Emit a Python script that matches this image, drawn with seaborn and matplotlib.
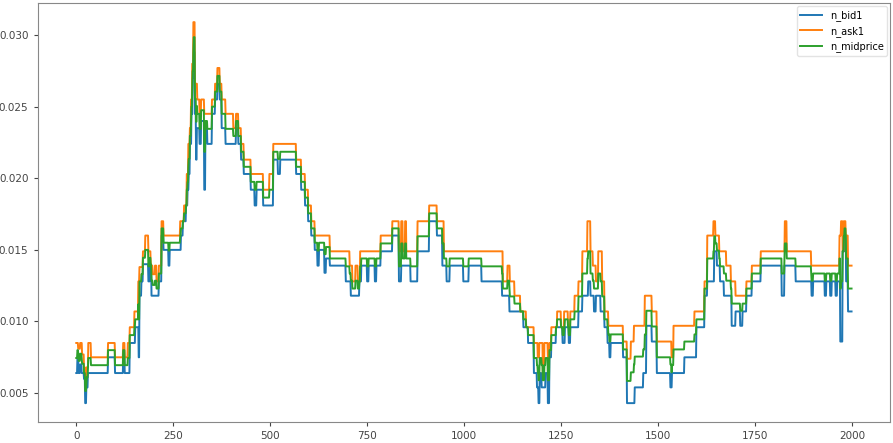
import numpy as np
import pandas as pd
import matplotlib
matplotlib.use("Agg")
import matplotlib.pyplot as plt
import seaborn as sns

N_TICKS = 2000

# Best ask: index where each price level starts, and the level
ask_start = [0, 5, 10, 15, 20, 23, 27, 31, 38, 82, 100, 121, 125, 133, 138, 150,
             160, 163, 172, 178, 186, 192, 197, 203, 207, 213, 220, 225, 268, 278,
             285, 289, 293, 296, 299, 302, 306, 312, 318, 322, 330, 350, 358, 364,
             370, 375, 385, 405, 412, 418, 425, 432, 450, 482, 498, 508, 567, 580,
             590, 598, 606, 615, 654, 705, 712, 720, 726, 732, 785, 815, 832, 838,
             842, 848, 851, 880, 910, 930, 948, 1100, 1112, 1118, 1130, 1145, 1160,
             1180, 1190, 1194, 1203, 1207, 1216, 1220, 1225, 1240, 1250, 1258, 1268,
             1274, 1285, 1295, 1305, 1318, 1326, 1332, 1340, 1346, 1356, 1362, 1372,
             1410, 1420, 1430, 1438, 1466, 1484, 1497, 1535, 1540, 1594, 1620, 1627,
             1643, 1648, 1658, 1676, 1688, 1700, 1728, 1742, 1765, 1827, 1832, 1895,
             1968, 1972, 1976, 1979, 1984, 1990]
ask_level = [0.0085, 0.0081, 0.0085, 0.0077, 0.0068, 0.0060, 0.0068, 0.0085, 0.0075,
             0.0085, 0.0075, 0.0085, 0.0075, 0.0085, 0.0096, 0.0107, 0.0128, 0.0138,
             0.0149, 0.0160, 0.0149, 0.0139, 0.0133, 0.0139, 0.0128, 0.0139, 0.0170,
             0.0160, 0.0170, 0.0181, 0.0203, 0.0224, 0.0235, 0.0255, 0.0280, 0.0309,
             0.0266, 0.0255, 0.0245, 0.0255, 0.0245, 0.0255, 0.0266, 0.0277, 0.0266,
             0.0255, 0.0245, 0.0235, 0.0245, 0.0235, 0.0224, 0.0213, 0.0203, 0.0192,
             0.0203, 0.0224, 0.0213, 0.0203, 0.0192, 0.0181, 0.0170, 0.0160, 0.0149,
             0.0139, 0.0128, 0.0139, 0.0128, 0.0149, 0.0160, 0.0170, 0.0149, 0.0170,
             0.0149, 0.0170, 0.0149, 0.0170, 0.0181, 0.0170, 0.0149, 0.0128, 0.0139,
             0.0128, 0.0118, 0.0107, 0.0096, 0.0085, 0.0075, 0.0085, 0.0064, 0.0085,
             0.0075, 0.0085, 0.0096, 0.0107, 0.0096, 0.0107, 0.0096, 0.0107, 0.0118,
             0.0128, 0.0149, 0.0170, 0.0149, 0.0139, 0.0128, 0.0149, 0.0128, 0.0107,
             0.0097, 0.0086, 0.0074, 0.0086, 0.0097, 0.0118, 0.0107, 0.0086, 0.0075,
             0.0097, 0.0107, 0.0128, 0.0160, 0.0170, 0.0160, 0.0149, 0.0139, 0.0128,
             0.0118, 0.0128, 0.0139, 0.0149, 0.0170, 0.0149, 0.0139, 0.0160, 0.0170,
             0.0149, 0.0170, 0.0160, 0.0139]

# Best bid: index where each price level starts, and the level
bid_start = [0, 3, 6, 10, 14, 20, 23, 26, 30, 82, 100, 121, 125, 138, 152, 161, 163,
             168, 172, 186, 190, 194, 213, 220, 225, 238, 241, 270, 275, 283, 287,
             290, 293, 297, 300, 303, 306, 309, 311, 318, 322, 330, 333, 338, 350,
             358, 364, 370, 375, 385, 412, 418, 425, 432, 450, 460, 465, 482, 508,
             520, 526, 567, 580, 590, 598, 606, 615, 622, 626, 640, 644, 654, 695,
             708, 730, 735, 750, 754, 770, 774, 785, 815, 832, 838, 862, 880, 910,
             930, 944, 955, 963, 998, 1012, 1045, 1098, 1117, 1153, 1165, 1180, 1188,
             1192, 1195, 1200, 1210, 1216, 1220, 1225, 1237, 1254, 1260, 1270, 1274,
             1295, 1305, 1320, 1326, 1335, 1340, 1352, 1362, 1370, 1375, 1378, 1410,
             1420, 1440, 1462, 1470, 1484, 1497, 1532, 1536, 1568, 1599, 1620, 1627,
             1645, 1652, 1660, 1670, 1690, 1700, 1712, 1718, 1728, 1742, 1765, 1819,
             1826, 1855, 1896, 1900, 1930, 1934, 1944, 1948, 1958, 1962, 1970, 1976,
             1981, 1985, 1990]
bid_level = [0.0064, 0.0075, 0.0064, 0.0070, 0.0064, 0.0060, 0.0043, 0.0054, 0.0064,
             0.0075, 0.0064, 0.0075, 0.0064, 0.0085, 0.0096, 0.0075, 0.0118, 0.0128,
             0.0140, 0.0128, 0.0140, 0.0118, 0.0128, 0.0160, 0.0150, 0.0139, 0.0150,
             0.0160, 0.0170, 0.0181, 0.0192, 0.0203, 0.0224, 0.0245, 0.0270, 0.0288,
             0.0245, 0.0213, 0.0235, 0.0224, 0.0240, 0.0192, 0.0235, 0.0224, 0.0245,
             0.0255, 0.0266, 0.0255, 0.0235, 0.0224, 0.0235, 0.0224, 0.0213, 0.0203,
             0.0192, 0.0181, 0.0192, 0.0181, 0.0213, 0.0203, 0.0213, 0.0203, 0.0192,
             0.0181, 0.0170, 0.0160, 0.0150, 0.0139, 0.0150, 0.0134, 0.0144, 0.0139,
             0.0128, 0.0118, 0.0128, 0.0139, 0.0128, 0.0139, 0.0128, 0.0139, 0.0149,
             0.0160, 0.0128, 0.0139, 0.0128, 0.0149, 0.0170, 0.0160, 0.0139, 0.0128,
             0.0139, 0.0128, 0.0139, 0.0128, 0.0118, 0.0107, 0.0096, 0.0085, 0.0064,
             0.0054, 0.0043, 0.0064, 0.0054, 0.0064, 0.0043, 0.0075, 0.0085, 0.0096,
             0.0085, 0.0096, 0.0085, 0.0096, 0.0107, 0.0118, 0.0128, 0.0118, 0.0107,
             0.0118, 0.0107, 0.0096, 0.0085, 0.0075, 0.0085, 0.0075, 0.0043, 0.0054,
             0.0064, 0.0097, 0.0086, 0.0064, 0.0054, 0.0064, 0.0075, 0.0096, 0.0118,
             0.0128, 0.0149, 0.0139, 0.0128, 0.0118, 0.0097, 0.0107, 0.0097, 0.0107,
             0.0118, 0.0128, 0.0139, 0.0118, 0.0139, 0.0128, 0.0118, 0.0128, 0.0118,
             0.0128, 0.0118, 0.0128, 0.0118, 0.0128, 0.0086, 0.0149, 0.0160, 0.0128,
             0.0107]


def expand(starts, levels, n=N_TICKS):
    """Hold each level from its start index until the next change."""
    lengths = np.diff(np.append(starts, n))
    return np.repeat(levels, lengths)


n_bid1 = expand(bid_start, bid_level)
n_ask1 = expand(ask_start, ask_level)
n_midprice = (n_bid1 + n_ask1) / 2.0

wide = pd.DataFrame({"n_bid1": n_bid1, "n_ask1": n_ask1, "n_midprice": n_midprice})
wide.index.name = "tick"
long = wide.reset_index().melt(id_vars="tick", var_name="series", value_name="price")

fig, ax = plt.subplots(figsize=(8.93, 4.43), dpi=100)
fig.subplots_adjust(left=0.042, right=0.997, top=0.993, bottom=0.047)

sns.lineplot(data=long, x="tick", y="price", hue="series",
             palette=["#1f77b4", "#ff7f0e", "#2ca02c"], estimator=None,
             linewidth=1.4, ax=ax)

ax.set_xlabel("")
ax.set_ylabel("")
ax.set_xticks([0, 250, 500, 750, 1000, 1250, 1500, 1750, 2000])
ax.set_yticks([0.005, 0.010, 0.015, 0.020, 0.025, 0.030])
ax.tick_params(labelsize=7.5, colors="#444444", length=3)
for s in ax.spines.values():
    s.set_color("#888888")

handles, labels = ax.get_legend_handles_labels()
ax.legend(handles, labels, loc="upper right", fontsize=7, framealpha=0.8,
          edgecolor="#dddddd", borderaxespad=0.3, handlelength=2.2)

fig.savefig("out.png", dpi=100)
